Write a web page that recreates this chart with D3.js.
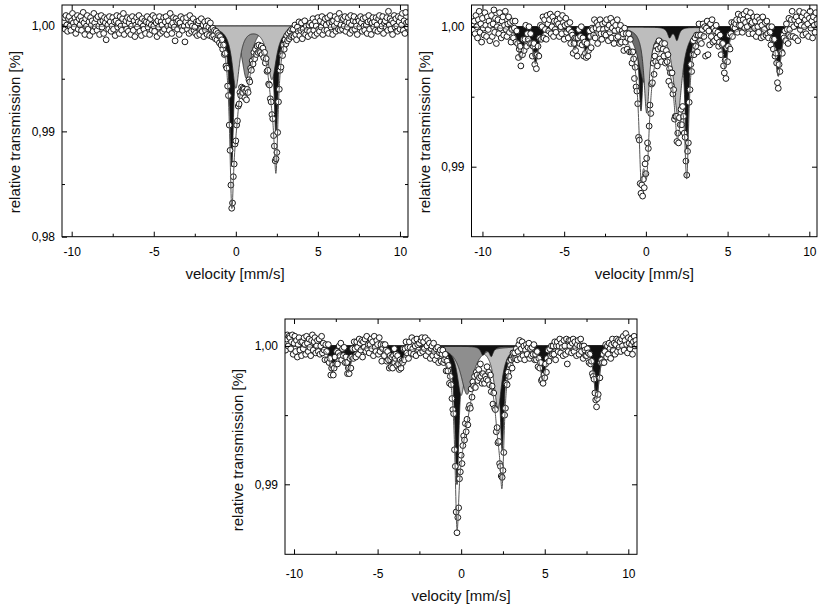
<!DOCTYPE html>
<html>
<head>
<meta charset="utf-8">
<script src="https://cdn.jsdelivr.net/npm/d3@7"></script>
<style>
  body { margin: 0; background: #fff; }
  svg { display: block; }
</style>
</head>
<body>
<svg id="svg" width="818" height="606"></svg>
<script>
// channel velocities, mm/s (421 channels, -10.5 ... 10.5)
const velocity = d3.range(421).map(i => -10.5 + 0.05 * i);

// measured relative transmission, stored as (T - 1) * 10^4, one row per mm/s
const spec1 = [
  4, 8, -3, 10, 1, -5, 7, 9, 0, -4, 5, 12, 3, -1, 8, -7, 4, 10, -3, 7,
  1, 9, -4, 5, 13, 3, -8, 7, 0, 10, -3, 4, -9, 8, 1, 5, -5, 12, 3, -1,
  7, -4, 9, 0, -8, 4, 10, -1, 5, -7, 8, 3, -13, 7, 1, -3, 9, 4, -5, 0,
  8, -3, 4, -9, 5, 10, -1, 3, -7, 9, 0, -4, 7, 12, -8, 1, 5, -3, 8, -5,
  3, 7, -8, 0, 9, -4, 5, -10, 1, 8, -1, 4, 10, -5, 3, -9, 7, 0, -3, 5,
  -7, 4, 9, -1, 3, -8, 7, 1, -4, 10, 0, -5, 8, 3, -10, 5, -1, 9, -7, 4,
  1, -5, 8, -3, 4, 9, -8, 0, 5, -4, 12, 1, -7, 3, 8, -1, -14, 7, 4, -3,
  5, -8, 3, 9, -1, -4, 7, 0, -15, 4, 8, -3, 1, -7, 10, 3, -5, 0, 7, -4,
  -1, -7, 4, -9, 3, 5, -8, -3, 7, -5, 1, -10, 4, -4, 0, -8, 5, -1, -9, 3,
  -3, -10, -2, -9, -4, -12, -5, -13, -7, -9, -16, -10, -18, -13, -22, -18, -27, -26, -38, -40,
  -57, -66, -94, -118, -151, -173, -168, -143, -131, -112, -109, -94, -90, -76, -74, -63, -66, -58, -63, -59,
  -60, -68, -62, -70, -60, -63, -51, -53, -40, -42, -33, -36, -25, -31, -22, -27, -19, -25, -18, -24,
  -25, -19, -27, -21, -30, -25, -35, -31, -43, -42, -55, -56, -69, -72, -84, -88, -104, -114, -128, -126,
  -120, -101, -72, -60, -42, -39, -27, -28, -18, -22, -13, -17, -9, -14, -7, -12, -5, -10, -3, -9,
  -3, -10, 1, -8, -13, -1, -5, 4, -9, -4, 3, -12, -3, -7, 5, -8, 0, -4, -10, 1,
  -5, 3, -8, 1, 7, -4, -9, 4, 0, -7, 8, -3, -5, 5, -1, 9, -8, 3, -4, 7,
  1, -4, 8, -7, 3, 10, -1, 4, -8, 5, 0, 9, -5, 3, 7, -3, 12, -4, 1, 8,
  -3, 7, 0, 9, -5, 4, -1, 8, 3, -7, 10, 1, -4, 5, 9, -3, 4, 0, -8, 7,
  5, -1, 9, 3, -5, 7, 0, -4, 8, 1, -7, 4, 10, -3, 5, -8, 3, 8, -1, 4,
  -4, 8, 1, -5, 7, 10, -3, 4, 0, 9, -7, 3, 5, -1, 8, -4, 14, 1, 7, -3,
  5, -8, 3, 10, -1, 7, 0, -5, 9, 4, -3, 8, 1, 12, -4, 5, -7, 13, 3, -1,
  4
];

const spec2 = [
  4, -5, 8, 0, -8, 5, 11, -4, 2, -11, 6, -1, -6, 10, 1, -7, 7, -2, 4, -10,
  1, 8, -7, 2, 12, -4, 6, -12, 0, 5, -5, 10, -1, -8, 4, 7, -6, 1, 11, -2,
  -7, 2, 7, -4, 3, -11, -2, 4, -8, -1, 4, -11, -3, -12, -22, -16, -14, -28, -20, -20,
  -9, -17, -9, 1, -14, -5, -9, 0, -12, -5, -12, -21, -14, -12, -27, -20, -30, -20, -14, -21,
  -8, 1, -9, 0, 7, -8, 5, -2, -9, 8, 2, -3, 5, 9, -5, 0, 7, -7, 4, -2,
  -4, 4, 9, 2, -7, 6, 0, -5, 8, 3, -9, 1, 6, -4, 2, -8, -2, 3, -12, -4,
  -6, -19, -12, -8, -17, -8, -21, -8, -2, -12, -7, 0, -13, -8, -21, -11, -19, -22, -12, -21,
  -17, -3, -7, -15, -1, -2, -6, 5, -8, -1, 3, -12, 1, -2, 5, -5, -9, 2, -2, -5,
  3, -6, 5, -1, -10, 1, -4, 6, -8, -1, 3, -12, -3, 1, -8, 5, -7, -2, -12, 1,
  -11, -3, -5, -17, -1, -11, -5, -16, -8, -5, -18, -9, -18, -26, -18, -23, -37, -29, -43, -46,
  -55, -79, -81, -112, -119, -113, -121, -109, -115, -98, -105, -94, -83, -87, -71, -56, -62, -41, -40, -26,
  -34, -21, -25, -14, -28, -16, -10, -23, -15, -25, -12, -16, -21, -12, -26, -17, -25, -20, -39, -30,
  -33, -42, -33, -48, -45, -66, -64, -64, -82, -76, -83, -65, -70, -59, -70, -57, -64, -76, -79, -96,
  -106, -89, -83, -54, -45, -27, -32, -20, -10, -20, -8, -14, -6, -18, -6, 2, -10, -6, -12, -2,
  2, -7, 0, -21, -1, 4, -20, -3, -13, 2, -7, 5, -11, -1, -10, -3, 1, -8, -4, -14,
  -11, -6, -20, -13, -12, -28, -33, -24, -37, -15, -25, -14, -6, -16, -5, 3, -7, 0, 3, -1,
  2, 5, -4, 9, 1, 5, 1, 8, -4, 5, 9, -1, 3, 11, 0, 7, -5, 4, 10, 2,
  3, -5, 7, -1, 4, -7, 7, 0, -4, 5, 3, -8, 1, 7, -7, -2, 3, -6, 4, -5,
  -8, 0, -4, -13, 0, -9, -16, -9, -21, -19, -26, -40, -44, -27, -32, -18, -18, -19, -6, -8,
  -3, -10, 2, -2, -12, 6, -2, -7, 5, 11, -7, 0, 5, -8, 7, 2, -10, 4, 11, -2,
  1, 7, -6, 10, 0, 5, -5, 8, 2, -7, 6, 11, -1, 4, -8, 7, 1, -4, 10, 5,
  2
];

const spec3 = [
  -3, 5, 8, 0, 7, 6, -2, 3, 8, -6, 2, 7, -4, 4, -8, 1, 6, -3, 3, -7,
  3, -2, 6, 1, -6, 7, 2, -4, 5, -1, -7, 4, 8, -3, 3, 6, -5, 0, 4, -4,
  5, -6, 0, 7, -5, 2, -3, -10, 1, -4, -10, 1, -12, -9, -21, -16, -14, -21, -16, -8,
  -13, -4, -13, -5, 0, -7, 2, -10, -2, -7, -1, -12, -8, -12, -20, -16, -20, -9, -16, -8,
  -2, -9, 3, -2, -8, 3, -1, -6, 5, 2, -3, 4, -8, 3, -1, 5, -4, 7, -2, 1,
  -5, 1, 5, -2, 3, -7, 7, -1, -4, 4, 1, -6, 6, -4, 1, -11, -2, 1, -7, 1,
  -3, -11, -4, -10, -16, -7, -15, -8, -16, -7, -2, -9, -6, -14, -7, -13, -17, -10, -16, -11,
  -12, -2, -10, -2, 3, -5, -1, -9, 3, -1, -5, 6, -2, -6, 4, 0, -7, 5, 1, -3,
  2, -5, 4, 6, -4, 3, -2, 6, -7, 0, 4, -4, 2, -9, -2, 0, -7, 2, -4, -10,
  -2, -7, -1, -12, -5, -3, -11, -6, -3, -12, -10, -6, -18, -11, -18, -14, -27, -22, -28, -38,
  -46, -49, -75, -87, -120, -135, -124, -117, -96, -91, -79, -85, -72, -65, -68, -56, -62, -53, -57, -45,
  -43, -45, -31, -37, -26, -29, -22, -30, -19, -21, -25, -17, -23, -13, -22, -27, -20, -25, -27, -22,
  -24, -15, -25, -19, -28, -21, -33, -29, -42, -34, -45, -46, -62, -59, -70, -69, -85, -87, -94, -95,
  -90, -77, -50, -45, -27, -28, -19, -22, -11, -14, -10, -16, -5, -9, -5, -9, -2, -10, -4, 1,
  4, -9, -2, 3, -7, 0, -10, -3, 1, -6, -1, 2, -9, -2, -7, -1, -6, 1, -10, -6,
  -10, -4, -15, -9, -16, -12, -25, -24, -27, -21, -23, -13, -19, -9, -3, -11, -2, -7, 0, -6,
  0, -6, 3, -10, 0, 3, -4, 0, 5, -5, 2, -1, -7, 4, 0, -6, 5, -13, -4, 4,
  0, 4, -5, 2, 5, -4, 3, -1, -7, 1, 4, -6, 0, 5, -4, 0, -9, 0, -3, -7,
  -7, -2, -5, -12, -6, -13, -11, -20, -22, -24, -34, -39, -44, -38, -35, -23, -23, -12, -10, -12,
  -6, -12, -4, 1, -8, 0, -6, 2, -2, -9, 1, 5, -3, 2, -6, 1, 5, -4, 4, -1,
  3, -4, 5, 0, 7, -3, 4, 9, 1, -5, 6, 2, -2, 5, 1, -6, 3, 7, 0, 4,
  1
];

// fitted sub-spectra, each line as [position mm/s, depth 1e-4, half width mm/s]
const fit1Black  = [[-0.25, 133, 0.15], [2.45, 105, 0.15]];
const fit1Medium = [[0.65, 50, 0.35]];
const fit1Light  = [[0.0, 58, 0.275], [2.2, 50, 0.325]];

const fit2Black  = [[-0.3, 60, 0.15], [2.5, 90, 0.15]];
const fit2Medium = [[-0.1, 40, 0.45]];
const fit2Light  = [[0.05, 60, 0.2], [1.95, 62, 0.325]];
const fit2Sextet = [[-7.65, 22, 0.2], [-6.75, 25, 0.2], [-4.35, 14, 0.2], [-3.65, 18, 0.2],
                    [1.45, 7, 0.15], [1.9, 9, 0.15], [4.85, 28, 0.2], [8.1, 35, 0.2]];

const fit3Black  = [[-0.25, 100, 0.15], [2.45, 75, 0.15]];
const fit3Light  = [[0.0, 35, 0.275], [2.2, 45, 0.275]];
const fit3Medium = [[0.35, 35, 0.45]];
const fit3Sextet = [[-7.7, 18, 0.2], [-6.75, 18, 0.2], [-4.25, 12, 0.2], [-3.65, 13, 0.2],
                    [1.3, 6, 0.15], [1.8, 7, 0.15], [4.9, 24, 0.2], [8.1, 38, 0.2]];

// ticks
const xTicks = [-10, -5, 0, 5, 10];
const xLabels = ["-10", "-5", "0", "5", "10"];
const xMinor = [-7.5, -2.5, 2.5, 7.5];
const yTicks1 = [0.98, 0.99, 1.00];
const yLabels1 = ["0,98", "0,99", "1,00"];
const yMinor1 = [0.985, 0.995];
const yTicks23 = [0.99, 1.00];
const yLabels23 = ["0,99", "1,00"];
const yMinor23 = [0.995];

const FONT = "Arial, 'Liberation Sans', sans-serif";
const svg = d3.select("#svg");

const panels = [
  { id: 1, left: 62, top: 5, width: 346, height: 231.7,
    xDomain: [-10.59, 10.49], yDomain: [0.98, 1.002],
    yTicks: yTicks1, yLabels: yLabels1, yMinor: yMinor1, spectrum: spec1,
    layers: [[fit1Black, "#111"], [fit1Medium, "#8e8e8e"], [fit1Light, "#bdbdbd"]],
    yTitleX: 15, yTitleY: 132, xLabelPad: 11, xTitleY: 279 },
  { id: 2, left: 471.5, top: 5, width: 345.5, height: 231.7,
    xDomain: [-10.67, 10.47], yDomain: [0.985, 1.00155],
    yTicks: yTicks23, yLabels: yLabels23, yMinor: yMinor23, spectrum: spec2,
    layers: [[fit2Black, "#111"], [fit2Medium, "#6e6e6e"], [fit2Light, "#bdbdbd"], [fit2Sextet, "#111"]],
    yTitleX: 425, yTitleY: 132, xLabelPad: 11, xTitleY: 279 },
  { id: 3, left: 285, top: 319, width: 352, height: 235.3,
    xDomain: [-10.54, 10.52], yDomain: [0.98494, 1.00195],
    yTicks: yTicks23, yLabels: yLabels23, yMinor: yMinor23, spectrum: spec3,
    layers: [[fit3Black, "#111"], [fit3Light, "#bdbdbd"], [fit3Medium, "#8e8e8e"], [fit3Sextet, "#111"]],
    yTitleX: 238, yTitleY: 450, xLabelPad: 15, xTitleY: 601 }
];

// summed Lorentzian absorption of a set of lines at velocity v (as transmission drop)
function depth(lines, v) {
  return d3.sum(lines, l => l[1] / (1 + ((v - l[0]) / l[2]) ** 2)) / 1e4;
}

panels.forEach(p => {
  const x = d3.scaleLinear().domain(p.xDomain).range([p.left, p.left + p.width]);
  const y = d3.scaleLinear().domain(p.yDomain).range([p.top + p.height, p.top]);
  const bottom = p.top + p.height;
  const right = p.left + p.width;

  svg.append("clipPath").attr("id", "clip" + p.id)
    .append("rect")
    .attr("x", p.left).attr("y", p.top)
    .attr("width", p.width).attr("height", p.height);

  const plot = svg.append("g").attr("clip-path", `url(#clip${p.id})`);
  const grid = d3.range(p.xDomain[0], p.xDomain[1] + 0.005, 0.01);

  // sub-spectra
  p.layers.forEach(([lines, color]) => {
    plot.append("path")
      .datum(grid)
      .attr("fill", color)
      .attr("stroke", "#262626")
      .attr("stroke-width", 0.8)
      .attr("d", d3.area()
        .x(v => x(v))
        .y0(y(1))
        .y1(v => y(1 - depth(lines, v))));
  });

  // data points
  plot.selectAll("circle.pt")
    .data(p.spectrum)
    .join("circle")
    .attr("class", "pt")
    .attr("cx", (d, i) => x(velocity[i]))
    .attr("cy", d => y(1 + d / 1e4))
    .attr("r", 2.9)
    .attr("fill", "#fff")
    .attr("stroke", "#1a1a1a")
    .attr("stroke-width", 1);

  // total fit
  const allLines = p.layers.flatMap(l => l[0]);
  plot.append("path")
    .datum(grid)
    .attr("fill", "none")
    .attr("stroke", "#555")
    .attr("stroke-width", 1)
    .attr("d", d3.line()
      .x(v => x(v))
      .y(v => y(1 - depth(allLines, v))));

  // frame
  svg.append("rect")
    .attr("x", p.left).attr("y", p.top)
    .attr("width", p.width).attr("height", p.height)
    .attr("fill", "none").attr("stroke", "#000").attr("stroke-width", 1);

  const styleAxis = g => {
    g.select(".domain").remove();
    g.attr("font-family", FONT).attr("font-size", 12).attr("color", "#000");
  };

  // bottom axis with labels
  svg.append("g")
    .attr("transform", `translate(0,${bottom})`)
    .call(d3.axisBottom(x).tickValues(xTicks).tickSize(-5).tickPadding(p.xLabelPad)
      .tickFormat((d, i) => xLabels[i]))
    .call(styleAxis);
  svg.append("g")
    .attr("transform", `translate(0,${bottom})`)
    .call(d3.axisBottom(x).tickValues(xMinor).tickSize(-3).tickFormat(""))
    .call(styleAxis);
  // top axis (ticks only)
  svg.append("g")
    .attr("transform", `translate(0,${p.top})`)
    .call(d3.axisTop(x).tickValues(xTicks).tickSize(-5).tickFormat(""))
    .call(styleAxis);
  svg.append("g")
    .attr("transform", `translate(0,${p.top})`)
    .call(d3.axisTop(x).tickValues(xMinor).tickSize(-3).tickFormat(""))
    .call(styleAxis);

  // left axis with labels
  svg.append("g")
    .attr("transform", `translate(${p.left},0)`)
    .call(d3.axisLeft(y).tickValues(p.yTicks).tickSize(-5).tickPadding(7)
      .tickFormat((d, i) => p.yLabels[i]))
    .call(styleAxis);
  svg.append("g")
    .attr("transform", `translate(${p.left},0)`)
    .call(d3.axisLeft(y).tickValues(p.yMinor).tickSize(-3).tickFormat(""))
    .call(styleAxis);
  // right axis (ticks only)
  svg.append("g")
    .attr("transform", `translate(${right},0)`)
    .call(d3.axisRight(y).tickValues(p.yTicks).tickSize(-5).tickFormat(""))
    .call(styleAxis);
  svg.append("g")
    .attr("transform", `translate(${right},0)`)
    .call(d3.axisRight(y).tickValues(p.yMinor).tickSize(-3).tickFormat(""))
    .call(styleAxis);

  // axis titles
  svg.append("text")
    .attr("x", (p.left + right) / 2)
    .attr("y", p.xTitleY)
    .attr("text-anchor", "middle")
    .attr("font-family", FONT).attr("font-size", 15).attr("fill", "#111")
    .text("velocity [mm/s]");

  svg.append("text")
    .attr("transform", `translate(${p.yTitleX},${p.yTitleY}) rotate(-90)`)
    .attr("text-anchor", "middle")
    .attr("dy", "0.35em")
    .attr("font-family", FONT).attr("font-size", 15).attr("fill", "#111")
    .text("relative transmission [%]");
});
</script>
</body>
</html>
